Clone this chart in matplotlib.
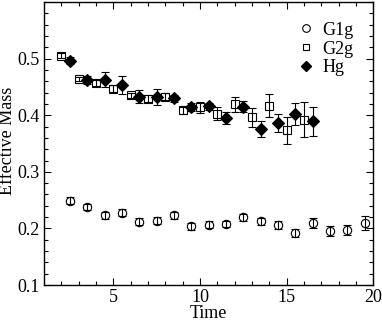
import matplotlib
matplotlib.use('Agg')
import matplotlib.pyplot as plt
from matplotlib.ticker import MultipleLocator
from matplotlib.lines import Line2D

# G1g: open circles
t_g1g = [2.5, 3.5, 4.5, 5.5, 6.5, 7.5, 8.5, 9.5, 10.5, 11.5, 12.5, 13.5, 14.5, 15.5, 16.5, 17.5, 18.5, 19.5]
m_g1g = [0.249, 0.238, 0.223, 0.228, 0.212, 0.214, 0.223, 0.204, 0.207, 0.208, 0.220, 0.213, 0.206, 0.192, 0.210, 0.195, 0.198, 0.210]
e_g1g = [0.006, 0.006, 0.006, 0.006, 0.006, 0.006, 0.006, 0.006, 0.006, 0.006, 0.006, 0.006, 0.007, 0.007, 0.009, 0.009, 0.009, 0.012]

# G2g: open squares
t_g2g = [2, 3, 4, 5, 6, 7, 8, 9, 10, 11, 12, 13, 14, 15, 16]
m_g2g = [0.505, 0.464, 0.457, 0.447, 0.435, 0.429, 0.433, 0.409, 0.414, 0.403, 0.419, 0.396, 0.417, 0.373, 0.392]
e_g2g = [0.004, 0.004, 0.005, 0.006, 0.005, 0.006, 0.006, 0.006, 0.010, 0.012, 0.013, 0.016, 0.021, 0.023, 0.031]

# Hg: filled diamonds
t_hg = [2.5, 3.5, 4.5, 5.5, 6.5, 7.5, 8.5, 9.5, 10.5, 11.5, 12.5, 13.5, 14.5, 15.5, 16.5]
m_hg = [0.496, 0.462, 0.463, 0.454, 0.433, 0.432, 0.430, 0.415, 0.416, 0.395, 0.415, 0.376, 0.386, 0.402, 0.389]
e_hg = [0.006, 0.007, 0.013, 0.016, 0.011, 0.014, 0.006, 0.007, 0.006, 0.010, 0.010, 0.014, 0.016, 0.019, 0.026]

plt.rcParams['font.family'] = ['Liberation Serif', 'DejaVu Serif']
plt.rcParams['font.size'] = 13

fig = plt.figure(figsize=(3.82, 3.2), dpi=100)
ax = fig.add_axes([0.115, 0.109, 0.862, 0.885])

common = dict(linestyle='none', ecolor='black', elinewidth=0.8, capsize=3.2, capthick=0.8)
ax.errorbar(t_g1g, m_g1g, yerr=e_g1g, marker='o', ms=6, mfc='none', mec='black', mew=0.8, **common)
ax.errorbar(t_g2g, m_g2g, yerr=e_g2g, marker='s', ms=6, mfc='none', mec='black', mew=0.8, **common)
ax.errorbar(t_hg, m_hg, yerr=e_hg, marker='D', ms=6, mfc='black', mec='black', mew=0.8, **common)

ax.set_xlim(1, 20)
ax.set_ylim(0.1, 0.6)
ax.xaxis.set_major_locator(MultipleLocator(5))
ax.xaxis.set_minor_locator(MultipleLocator(1))
ax.yaxis.set_minor_locator(MultipleLocator(0.02))
ax.set_yticks([0.1, 0.2, 0.3, 0.4, 0.5])
ax.tick_params(which='both', direction='in', top=True, right=True, width=0.8, labelsize=13)
ax.tick_params(which='major', length=5, pad=3)
ax.tick_params(which='minor', length=3)
for s in ax.spines.values():
    s.set_linewidth(1.0)

ax.set_xlabel('Time', fontsize=13, labelpad=-1)
ax.set_ylabel('Effective Mass', fontsize=13, labelpad=1)
ax.yaxis.label.set_y(0.51)

# legend markers without error bars
handles = [
    Line2D([], [], linestyle='none', marker='o', ms=5.5, mfc='none', mec='black', mew=0.8),
    Line2D([], [], linestyle='none', marker='s', ms=4.8, mfc='none', mec='black', mew=0.8),
    Line2D([], [], linestyle='none', marker='D', ms=5.5, mfc='black', mec='black'),
]
ax.legend(handles, ['G1g', 'G2g', 'Hg'], loc='upper right', frameon=False, fontsize=13,
          handletextpad=0.4, labelspacing=0.1, borderaxespad=0.7, handlelength=1.0)

fig.savefig('out.png', dpi=100)
